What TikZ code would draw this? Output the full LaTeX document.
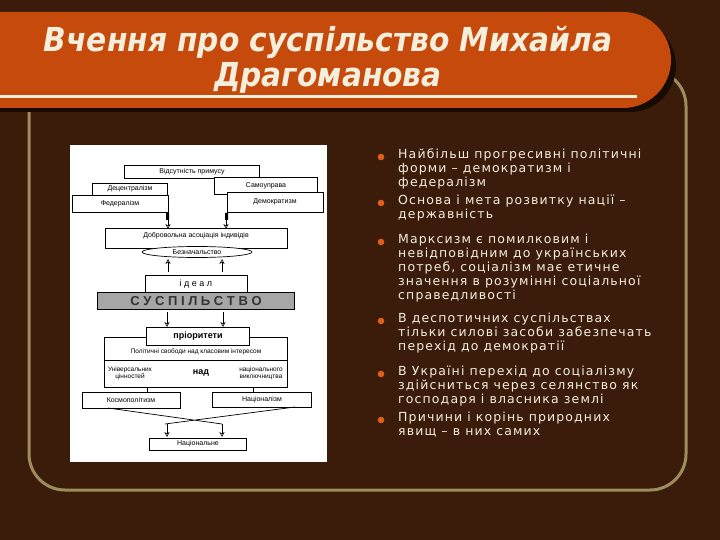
\documentclass[tikz,border=0pt]{standalone}
\usepackage{fontspec}
\usetikzlibrary{shapes.geometric,arrows.meta}
\setmainfont{DejaVu Sans}
\newfontfamily\dfont{Liberation Sans}
\newfontfamily\bfont[LetterSpace=9]{DejaVu Sans}
\newfontfamily\tfont{DejaVu Sans Condensed}
\definecolor{bg}{HTML}{3B1C0B}
\definecolor{bar}{HTML}{C64A0C}
\definecolor{edge}{HTML}{9C8C5E}
\definecolor{txt}{HTML}{F4EEDC}
\definecolor{dot}{HTML}{E0601A}
\begin{document}
\begin{tikzpicture}[x=1pt,y=-1pt,
  bx/.style={draw=black,fill=white,line width=0.7pt,inner sep=0pt,font=\dfont\fontsize{7}{8}\selectfont},
  arr/.style={draw=black,line width=0.5pt,-{Stealth[open,length=5pt,width=5pt]}},
  ln/.style={draw=black,line width=0.7pt},
  item/.style={txt,anchor=north west,align=left,inner sep=0pt,font=\bfont\fontsize{12.5}{14}\selectfont}]
\fill[bg] (0,0) rectangle (720,540);
\useasboundingbox (0,0) rectangle (720,540);
% outline
\draw[edge,line width=3pt,rounded corners=36pt] (29,70) -- (29,490) -- (686,490) -- (686,70) -- cycle;
% title bar
\fill[black!60!bg,rounded corners=46pt] (-60,20) rectangle (676,112);
\fill[bar,rounded corners=48pt] (-60,12) rectangle (671,108);
\fill[txt] (0,95) rectangle (637,98);
\node[txt,font=\tfont\bfseries\itshape\fontsize{33}{35}\selectfont,align=center] (title) at (328,60) {Вчення про суспільство Михайла\\Драгоманова};
% scanned diagram
\fill[white] (70,145) rectangle (327,462);
\node[bx,minimum width=135pt,minimum height=13pt] (vid) at (192,172) {Відсутність примусу};
\node[bx,minimum width=75pt,minimum height=12pt] (dec) at (130,189) {Децентралізм};
\node[bx,minimum width=96pt,minimum height=17pt] (fed) at (120,204) {Федералізм};
\node[bx,minimum width=103pt,minimum height=17pt] (sam) at (266,186) {Самоуправа};
\node[bx,minimum width=96pt,minimum height=20pt] (dem) at (275,202) {Демократизм};
\fill[black] (166,213) rectangle (169,220) (225,213) rectangle (228,220);
\node[bx,minimum width=182pt,minimum height=20pt,anchor=north] (dob) at (196,228) {\raisebox{6pt}{Добровольна асоціація індивідів}};
\node[bx,ellipse,minimum width=110pt,minimum height=11pt] (bez) at (197,252) {Безначальство};
\draw[arr] (168,220) -- (168,229);
\draw[arr] (226,220) -- (226,229);
\node[bx,minimum width=102pt,minimum height=18pt,font=\dfont\fontsize{9}{10}\selectfont] (ideal) at (196,284) {і д е а л};
\draw[arr] (168,272) -- (168,259);
\draw[arr] (222,272) -- (222,259);
\node[draw=black,fill=black!35,line width=0.8pt,minimum width=197pt,minimum height=17pt,inner sep=0pt,font=\dfont\bfseries\fontsize{13}{13}\selectfont,text=black!80] (sus) at (196,301) {С У С П І Л Ь С Т В О};
\draw[arr] (167,312) -- (167,327);
\draw[arr] (223,312) -- (223,327);
\node[bx,minimum width=183pt,minimum height=50pt,anchor=north] (big) at (196,337) {};
\draw[ln] (105,360) -- (288,360);
\node[font=\dfont\fontsize{6.5}{7}\selectfont] (pol) at (196,352) {Політичні свободи над класовим інтересом};
\node[font=\dfont\fontsize{6.5}{7}\selectfont,align=center] (uni) at (130,373) {Універсальних\\цінностей};
\node[font=\dfont\bfseries\fontsize{9}{9}\selectfont] (nad) at (201,373) {над};
\node[font=\dfont\fontsize{6.5}{7}\selectfont,align=center] (nvyk) at (261,373) {національного\\виключництва};
\node[bx,minimum width=103pt,minimum height=18pt,font=\dfont\bfseries\fontsize{9}{10}\selectfont] (pri) at (198,336) {пріоритети};
\node[bx,minimum width=98pt,minimum height=16pt] (kos) at (131,400) {Космополітизм};
\node[bx,minimum width=99pt,minimum height=15pt] (nac) at (262,400) {Націоналізм};
\draw[ln] (147,387) -- (147,392) (253,387) -- (253,392);
\draw[ln] (108,408) -- (222,424) (295,407) -- (165,424);
\draw[arr] (167,424) -- (167,437);
\draw[arr] (222,424) -- (222,437);
\node[bx,minimum width=97pt,minimum height=12pt] (nal) at (198,444) {Національне};
% bullets
\foreach \y in {157,203,242,321,374,420} \fill[dot] (381,\y) circle (3.3pt);
\node[item] (b1) at (398,149) {Найбільш прогресивні політичні\\форми – демократизм і\\федералізм};
\node[item] (b2) at (398,195) {Основа і мета розвитку нації –\\державність};
\node[item] (b3) at (398,234) {Марксизм є помилковим і\\невідповідним до українських\\потреб, соціалізм  має етичне\\значення в розумінні соціальної\\справедливості};
\node[item] (b4) at (398,313) {В деспотичних суспільствах\\тільки силові засоби забезпечать\\перехід до демократії};
\node[item] (b5) at (398,366) {В Україні перехід до соціалізму\\здійсниться через селянство як\\господаря і власника землі};
\node[item] (b6) at (398,412) {Причини і корінь природних\\явищ – в них самих};
\end{tikzpicture}
\end{document}
